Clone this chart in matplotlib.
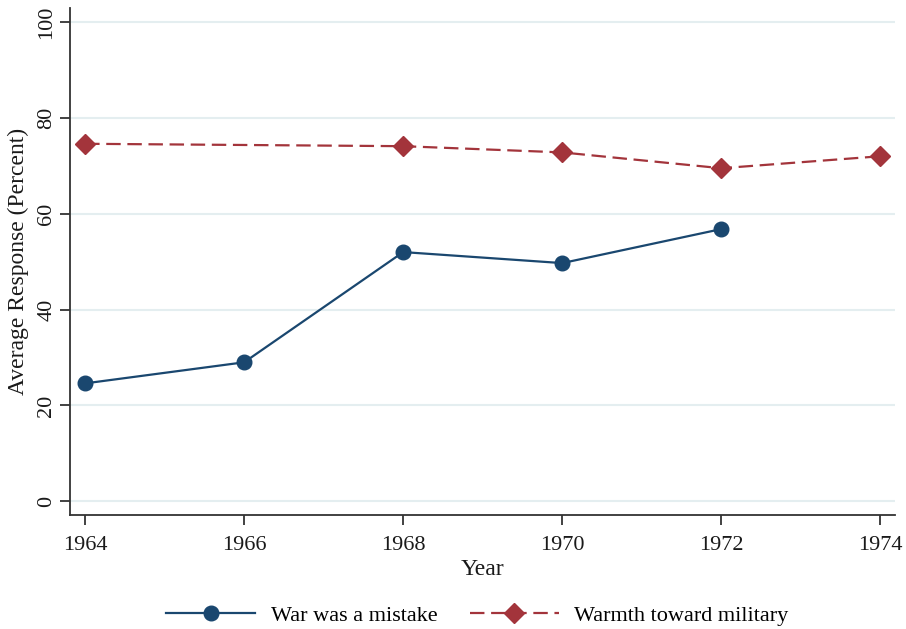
import matplotlib
matplotlib.use("Agg")
import matplotlib.pyplot as plt

plt.rcParams['font.family'] = ['Liberation Serif', 'DejaVu Serif']

war_years = [1964, 1966, 1968, 1970, 1972]
war_values = [24.6, 29.0, 52.0, 49.7, 56.8]
warm_years = [1964, 1968, 1970, 1972, 1974]
warm_values = [74.6, 74.1, 72.8, 69.5, 72.0]
x_ticks = [1964, 1966, 1968, 1970, 1972, 1974]
y_ticks = [0, 20, 40, 60, 80, 100]

blue = '#1a476f'
red = '#a3343b'
grid = '#e4eef0'

fig = plt.figure(figsize=(9.06, 6.29), dpi=100)
ax = fig.add_axes([0.0773, 0.181, 0.911, 0.806])

for y in y_ticks:
    ax.axhline(y, color=grid, lw=1.5, zorder=0)

ax.plot(war_years, war_values, color=blue, lw=1.6, marker='o', ms=10.5,
        label='War was a mistake', zorder=3)
ax.plot(warm_years, warm_values, color=red, lw=1.6, ls=(0, (6.5, 3.0)), marker='D', ms=10.5,
        label='Warmth toward military', zorder=3)

ax.set_xlim(1963.81, 1974.19)
ax.set_ylim(-2.9, 102.9)
ax.set_xticks(x_ticks)
ax.set_yticks(y_ticks)
ax.tick_params(axis='both', labelsize=16, colors='#333333', labelcolor='#1a1a1a',
               length=7, width=1.3, pad=8)
ax.tick_params(axis='y', pad=3)
for lab in ax.get_yticklabels():
    lab.set_rotation(90)
    lab.set_va('center')
for s in ['top', 'right']:
    ax.spines[s].set_visible(False)
for s in ['left', 'bottom']:
    ax.spines[s].set_color('#333333')
    ax.spines[s].set_linewidth(1.3)

ax.set_xlabel('Year', fontsize=17, color='#1a1a1a', labelpad=3)
ax.set_ylabel('Average Response (Percent)', fontsize=17, color='#1a1a1a', labelpad=6)

fig.legend(loc='center', bbox_to_anchor=(0.527, 0.021), ncol=2, frameon=False,
           fontsize=16, handlelength=4.0, columnspacing=1.45, handletextpad=0.7)

fig.savefig('out.png', dpi=100, facecolor='white')
